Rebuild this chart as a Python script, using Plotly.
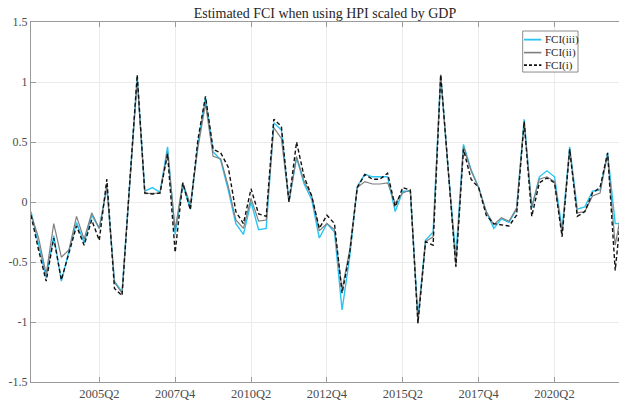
import plotly.graph_objects as go

# Quarterly sample 2003Q1 .. 2022Q3
start_year = 2003
n_obs = 79
quarters = [f"{start_year + k // 4}Q{k % 4 + 1}" for k in range(n_obs)]

fci_iii = [-0.08, -0.36, -0.63, -0.28, -0.66, -0.41, -0.17, -0.34, -0.11, -0.22,
           0.13, -0.66, -0.75, 0.15, 1.04, 0.09, 0.12, 0.08, 0.46, -0.27,
           0.15, -0.06, 0.49, 0.87, 0.42, 0.35, 0.10, -0.18, -0.27, 0.00,
           -0.23, -0.22, 0.66, 0.60, 0.00, 0.37, 0.15, 0.02, -0.30, -0.18,
           -0.25, -0.90, -0.46, 0.13, 0.23, 0.21, 0.21, 0.21, -0.08, 0.09,
           0.09, -0.96, -0.32, -0.25, 1.06, 0.26, -0.45, 0.48, 0.27, 0.12,
           -0.08, -0.22, -0.14, -0.17, -0.06, 0.69, -0.05, 0.21, 0.26, 0.21,
           -0.23, 0.46, -0.06, -0.04, 0.09, 0.10, 0.41, -0.18, -0.18]

fci_ii = [-0.10, -0.30, -0.60, -0.18, -0.46, -0.40, -0.12, -0.31, -0.09, -0.22,
          0.12, -0.67, -0.76, 0.15, 1.02, 0.07, 0.075, 0.075, 0.42, -0.23,
          0.16, -0.02, 0.45, 0.82, 0.38, 0.36, 0.13, -0.15, -0.22, 0.03,
          -0.16, -0.15, 0.62, 0.53, 0.00, 0.38, 0.17, 0.05, -0.24, -0.18,
          -0.23, -0.73, -0.40, 0.12, 0.17, 0.15, 0.15, 0.16, -0.01, 0.075,
          0.10, -1.01, -0.33, -0.29, 1.06, 0.26, -0.54, 0.46, 0.26, 0.12,
          -0.08, -0.19, -0.13, -0.16, -0.05, 0.66, -0.04, 0.19, 0.21, 0.17,
          -0.27, 0.44, -0.09, -0.08, 0.05, 0.075, 0.40, -0.36, -0.02]

fci_i = [-0.11, -0.40, -0.66, -0.30, -0.65, -0.43, -0.20, -0.36, -0.15, -0.32,
         0.19, -0.72, -0.78, 0.15, 1.06, 0.075, 0.067, 0.075, 0.40, -0.42,
         0.16, -0.065, 0.52, 0.88, 0.44, 0.41, 0.29, -0.08, -0.18, 0.11,
         -0.10, -0.12, 0.69, 0.63, 0.00, 0.50, 0.21, 0.05, -0.22, -0.11,
         -0.18, -0.76, -0.43, 0.12, 0.23, 0.19, 0.19, 0.24, -0.04, 0.12,
         0.10, -1.01, -0.33, -0.36, 1.06, 0.26, -0.54, 0.44, 0.19, 0.12,
         -0.11, -0.18, -0.19, -0.20, -0.11, 0.67, -0.12, 0.16, 0.20, 0.16,
         -0.29, 0.44, -0.12, -0.08, 0.075, 0.12, 0.41, -0.57, 0.05]

series_names = ["FCI(iii)", "FCI(ii)", "FCI(i)"]
series_colors = ["#29c4f2", "#7f7f7f", "#111111"]
series_widths = [1.4, 1.2, 1.4]
series_dash = ["solid", "solid", "4px,2.5px"]

tick_labels = ["2005Q2", "2007Q4", "2010Q2", "2012Q4", "2015Q2", "2017Q4", "2020Q2"]
y_ticks = [-1.5, -1, -0.5, 0, 0.5, 1, 1.5]
y_tick_text = ["-1.5", "-1", "-0.5", "0", "0.5", "1", "1.5"]

x = list(range(n_obs))
tick_pos = [quarters.index(q) for q in tick_labels]

serif = "Liberation Serif"

fig = go.Figure()
for name, vals, col, w, d in zip(series_names, [fci_iii, fci_ii, fci_i],
                                 series_colors, series_widths, series_dash):
    fig.add_trace(go.Scatter(x=x, y=vals, mode="lines", name=name,
                             line=dict(color=col, width=w, dash=d),
                             showlegend=False))

# Compact boxed legend in the upper right of the axes
box_x0, box_x1, box_y0, box_y1 = 0.8362, 0.9303, 0.861, 0.975
fig.add_shape(type="rect", xref="paper", yref="paper",
              x0=box_x0, x1=box_x1, y0=box_y0, y1=box_y1,
              line=dict(color="#8c8c8c", width=1), fillcolor="white", layer="above")
row_y = [0.951, 0.915, 0.880]
for name, col, w, d, yy in zip(series_names, series_colors, series_widths,
                               series_dash, row_y):
    fig.add_shape(type="line", xref="paper", yref="paper",
                  x0=0.8384, x1=0.8680, y0=yy, y1=yy, layer="above",
                  line=dict(color=col, width=w + 0.4,
                            dash="3px,2px" if d != "solid" else d))
    fig.add_annotation(xref="paper", yref="paper", x=0.8700, y=yy,
                       xanchor="left", yanchor="middle", showarrow=False,
                       text=name, font=dict(family=serif, size=11, color="#262626"))

fig.update_layout(
    width=619, height=404,
    margin=dict(l=31, r=0, t=22, b=22),
    paper_bgcolor="white", plot_bgcolor="white",
    title=dict(text="Estimated FCI when using HPI scaled by GDP",
               x=0.525, xanchor="center", y=0.9666, yanchor="middle",
               font=dict(family=serif, size=14, color="#262626")),
    font=dict(family=serif, size=12, color="#4d4d4d"),
    showlegend=False,
)

fig.update_xaxes(
    range=[0, 77.5], tickmode="array", tickvals=tick_pos, ticktext=tick_labels,
    showgrid=True, gridcolor="#ebebeb", gridwidth=1,
    showline=True, linecolor="#9a9a9a", linewidth=1, mirror="ticks",
    ticks="inside", ticklen=5, tickcolor="#9a9a9a",
    zeroline=False,
    tickfont=dict(family=serif, size=12.5, color="#4d4d4d"),
)
fig.update_yaxes(
    range=[-1.5, 1.5], tickmode="array", tickvals=y_ticks, ticktext=y_tick_text,
    showgrid=True, gridcolor="#ebebeb", gridwidth=1,
    showline=True, linecolor="#9a9a9a", linewidth=1,
    ticks="inside", ticklen=5, tickcolor="#9a9a9a",
    zeroline=False,
    tickfont=dict(family=serif, size=12, color="#4d4d4d"),
)

fig.write_html("out.html")
